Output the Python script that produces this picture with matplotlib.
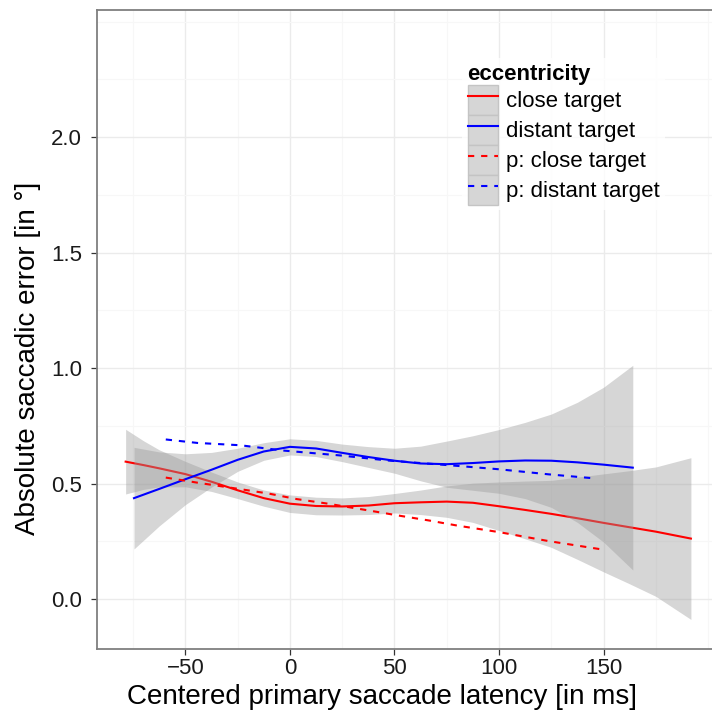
import matplotlib
matplotlib.use("Agg")
import matplotlib.pyplot as plt
from matplotlib.patches import Patch
from matplotlib.lines import Line2D
from matplotlib.legend_handler import HandlerTuple
from matplotlib.ticker import FixedLocator, FormatStrFormatter

plt.rcParams["font.family"] = ["Liberation Sans", "DejaVu Sans"]

# loess fit, close target (centre line and confidence band)
close_x = [-78.6, -70, -62.5, -50, -37.5, -25, -12.5, 0, 12.5, 25, 37.5, 50,
           62.5, 75, 87.5, 100, 112.5, 125, 137.5, 150, 162.5, 175, 191.8]
close_fit = [0.595, 0.580, 0.566, 0.541, 0.508, 0.471, 0.437, 0.413, 0.403, 0.401,
             0.405, 0.415, 0.419, 0.422, 0.417, 0.402, 0.386, 0.369, 0.350, 0.330,
             0.311, 0.292, 0.262]
close_lo = [0.455, 0.475, 0.486, 0.486, 0.466, 0.435, 0.402, 0.375, 0.365, 0.364,
            0.366, 0.373, 0.366, 0.354, 0.332, 0.297, 0.261, 0.224, 0.172, 0.118,
            0.066, 0.012, -0.088]
close_hi = [0.735, 0.685, 0.646, 0.596, 0.550, 0.507, 0.472, 0.451, 0.441, 0.438,
            0.444, 0.457, 0.472, 0.490, 0.502, 0.507, 0.511, 0.514, 0.528, 0.542,
            0.556, 0.572, 0.612]

# loess fit, distant target
dist_x = [-74.6, -62.5, -50, -37.5, -25, -12.5, 0, 12.5, 25, 37.5, 50, 62.5,
          75, 87.5, 100, 112.5, 125, 137.5, 150, 164]
dist_fit = [0.437, 0.477, 0.519, 0.560, 0.603, 0.639, 0.659, 0.652, 0.633, 0.615,
            0.599, 0.587, 0.584, 0.589, 0.596, 0.600, 0.599, 0.592, 0.582, 0.569]
dist_lo = [0.217, 0.317, 0.409, 0.485, 0.553, 0.601, 0.624, 0.617, 0.595, 0.570,
           0.545, 0.512, 0.484, 0.471, 0.458, 0.435, 0.397, 0.332, 0.247, 0.126]
dist_hi = [0.657, 0.637, 0.629, 0.635, 0.653, 0.677, 0.694, 0.687, 0.671, 0.660,
           0.653, 0.662, 0.684, 0.707, 0.734, 0.765, 0.801, 0.852, 0.917, 1.012]

# model predictions
pred_close_x = [-59.4, -44.3, -23.8, -10.3, 3.2, 17.5, 38.1, 52.4, 66.7, 80.2,
                100, 123.8, 149.2]
pred_close_y = [0.526, 0.504, 0.476, 0.457, 0.433, 0.414, 0.383, 0.361, 0.340,
                0.318, 0.290, 0.251, 0.215]
pred_dist_x = [-59.4, -44.3, -23.8, -3.2, 23.8, 46.8, 81, 100, 123.8, 145.2]
pred_dist_y = [0.691, 0.676, 0.666, 0.643, 0.622, 0.600, 0.576, 0.562, 0.540, 0.523]

legend_labels = ["close target", "distant target", "p: close target", "p: distant target"]

x_breaks = [-50, 0, 50, 100, 150]
x_minor = [-75, -25, 25, 75, 125, 175, 200]
y_breaks = [0.0, 0.5, 1.0, 1.5, 2.0]
y_minor = [-0.25, 0.25, 0.75, 1.25, 1.75, 2.25, 2.5]

RED = "#ff0000"
BLUE = "#0000ff"
BAND = "#999999"

W, H = 712, 716
fig = plt.figure(figsize=(W / 100, H / 100), dpi=100)
left, right, top, bottom = 97, 718.5, 10, 649
ax = fig.add_axes([left / W, 1 - bottom / H, (right - left) / W, (bottom - top) / H])

ax.set_xlim(-92.3, 205)
ax.set_ylim(-0.216, 2.55)

# theme_bw look
ax.set_facecolor("white")
for s in ax.spines.values():
    s.set_color("#7f7f7f")
    s.set_linewidth(1.3)
ax.xaxis.set_major_locator(FixedLocator(x_breaks))
ax.xaxis.set_minor_locator(FixedLocator(x_minor))
ax.yaxis.set_major_locator(FixedLocator(y_breaks))
ax.yaxis.set_minor_locator(FixedLocator(y_minor))
ax.grid(which="major", color="#ebebeb", linewidth=1.0)
ax.grid(which="minor", color="#f7f7f7", linewidth=0.8)
ax.set_axisbelow(True)
ax.tick_params(which="minor", length=0)
ax.tick_params(which="major", length=4.3, width=0.9, color="#333333",
               labelsize=16, labelcolor="#1a1a1a")
ax.tick_params(axis="y", pad=6.5)
ax.tick_params(axis="x", pad=2.5)
ax.yaxis.set_major_formatter(FormatStrFormatter("%.1f"))

# smooths: band then line, close first
ax.fill_between(close_x, close_lo, close_hi, color=BAND, alpha=0.4, linewidth=0, zorder=2)
ax.plot(close_x, close_fit, color=RED, linewidth=1.5, zorder=2.1)
ax.fill_between(dist_x, dist_lo, dist_hi, color=BAND, alpha=0.4, linewidth=0, zorder=2.2)
ax.plot(dist_x, dist_fit, color=BLUE, linewidth=1.5, zorder=2.3)

dash = (3.0, 3.3)
ax.plot(pred_close_x, pred_close_y, color=RED, linewidth=1.5, dashes=dash, zorder=3)
ax.plot(pred_dist_x, pred_dist_y, color=BLUE, linewidth=1.5, dashes=dash, zorder=3)

ax.set_xlabel("Centered primary saccade latency [in ms]", fontsize=20)
ax.set_ylabel("Absolute saccadic error [in °]", fontsize=20)
ax.xaxis.set_label_coords((382 - left) / (right - left), -0.055)
ax.yaxis.set_label_coords((41 - left) / (right - left), (bottom - 358) / (bottom - top))

# legend with shaded keys
key = dict(facecolor="#d6d6d6", edgecolor="#c4c4c4", linewidth=1.0)
handles = [
    (Patch(**key), Line2D([], [], color=RED, linewidth=1.5)),
    (Patch(**key), Line2D([], [], color=BLUE, linewidth=1.5)),
    (Patch(**key), Line2D([], [], color=RED, linewidth=1.5, dashes=dash)),
    (Patch(**key), Line2D([], [], color=BLUE, linewidth=1.5, dashes=dash)),
]
leg = ax.legend(handles, legend_labels, title="eccentricity",
                handler_map={tuple: HandlerTuple(ndivide=1, pad=0)},
                loc="upper left", bbox_to_anchor=(462 / W, 1 - 58 / H),
                bbox_transform=fig.transFigure, borderaxespad=0, borderpad=0.25,
                handlelength=1.35, handleheight=1.7, handletextpad=0.36,
                labelspacing=0.0, fontsize=16, title_fontsize=16,
                alignment="left", frameon=True, fancybox=False)
leg.get_frame().set_facecolor("white")
leg.get_frame().set_edgecolor("none")
leg.get_title().set_fontweight("bold")

fig.savefig("out.png", dpi=100)
